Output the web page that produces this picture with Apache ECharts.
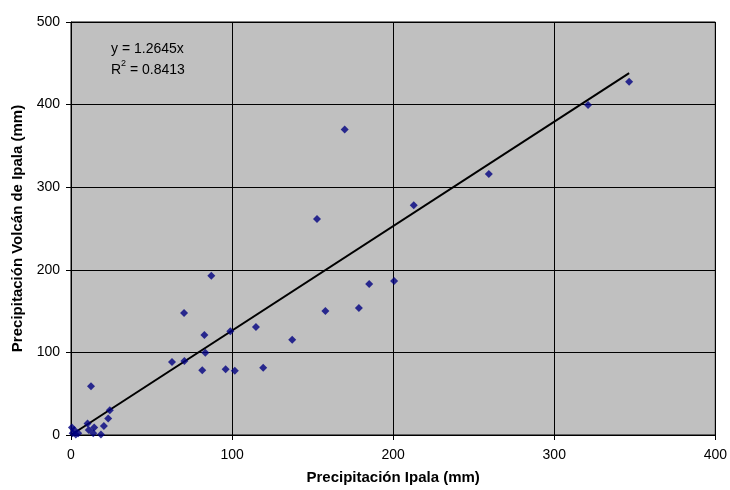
<!DOCTYPE html>
<html>
<head>
<meta charset="utf-8">
<script src="https://cdn.jsdelivr.net/npm/echarts@6/dist/echarts.min.js"></script>
<style>
	html, body { margin: 0; padding: 0; background: #fff; }
	#main { width: 730px; height: 490px; }
</style>
</head>
<body>
<div id="main"></div>
<script>
// Precipitación Ipala (mm)
var ipala = [0.6, 2, 1, 3, 4.5, 10.3, 11, 12.4, 14.4, 13.8, 18.6, 20.4, 23.1, 24.1,
	62.7, 70.4, 70.2, 81.5, 82.8, 83.4, 87.1, 96, 98.9, 101.7, 114.8, 119.3, 137.3,
	152.7, 157.9, 169.9, 178.7, 185.1, 200.6, 212.8, 259.4, 321, 346.5];
// Precipitación Volcán de Ipala (mm)
var volcan = [9, 6, 2, 0.5, 2, 14, 6, 59, 9, 2, 0.5, 11, 20, 30,
	88.4, 89.6, 147.7, 78.3, 121, 99.7, 192.9, 79.5, 125.5, 77.9, 130.7, 81.5, 115.4,
	261.5, 150, 370, 153.8, 182.8, 186.4, 278, 316, 399.5, 427.7];
var slope = 1.2645;
var r2 = 0.8413;
var trendX = [0, 346.5];
var xTicks = [0, 100, 200, 300, 400];
var yTicks = [0, 100, 200, 300, 400, 500];

var points = [];
for (var i = 0; i < ipala.length; i++) {
	points.push([ipala[i], volcan[i]]);
}
var trend = [];
for (var j = 0; j < trendX.length; j++) {
	trend.push([trendX[j], slope * trendX[j]]);
}

var font = 'Liberation Sans, Arial, sans-serif';
var myChart = echarts.init(document.getElementById('main'));
myChart.setOption({
	animation: false,
	grid: {
		left: 71, right: 12, top: 22, bottom: 54,
		show: true,
		backgroundColor: '#C0C0C0',
		borderColor: '#000',
		borderWidth: 1
	},
	xAxis: {
		type: 'value',
		min: xTicks[0], max: xTicks[xTicks.length - 1], interval: 100,
		name: 'Precipitación Ipala (mm)',
		nameLocation: 'middle',
		nameGap: 35,
		nameTextStyle: { fontFamily: font, fontSize: 15, fontWeight: 'bold', color: '#000' },
		axisLine: { lineStyle: { color: '#000', width: 1 } },
		axisTick: { show: true, length: 5, lineStyle: { color: '#000' } },
		axisLabel: { fontFamily: font, fontSize: 14, color: '#000', margin: 13 },
		splitLine: { show: true, lineStyle: { color: '#000', width: 1 } }
	},
	yAxis: {
		type: 'value',
		min: yTicks[0], max: yTicks[yTicks.length - 1], interval: 100,
		name: 'Precipitación Volcán de Ipala (mm)',
		nameLocation: 'middle',
		nameGap: 45,
		nameTextStyle: { fontFamily: font, fontSize: 15, fontWeight: 'bold', color: '#000' },
		axisLine: { show: true, lineStyle: { color: '#000', width: 1 } },
		axisTick: { show: true, length: 5, lineStyle: { color: '#000' } },
		axisLabel: { fontFamily: font, fontSize: 14, color: '#000', margin: 11 },
		splitLine: { show: true, lineStyle: { color: '#000', width: 1 } }
	},
	graphic: [{
		type: 'text',
		left: 111, top: 42,
		style: {
			text: '{a|y = ' + slope + 'x}\n{a|R}{s|2}{a| = ' + r2 + '}',
			rich: {
				a: { fontFamily: font, fontSize: 14, fill: '#000', lineHeight: 21 },
				s: { fontFamily: font, fontSize: 9, fill: '#000', verticalAlign: 'top', lineHeight: 21, padding: [0, 0, 9, 0] }
			}
		}
	}],
	series: [{
		type: 'line',
		data: trend,
		symbol: 'none',
		lineStyle: { color: '#000', width: 2 },
		z: 3
	}, {
		type: 'scatter',
		data: points,
		symbol: 'diamond',
		symbolSize: 8,
		itemStyle: { color: '#000080' },
		z: 4
	}]
});
</script>
</body>
</html>
